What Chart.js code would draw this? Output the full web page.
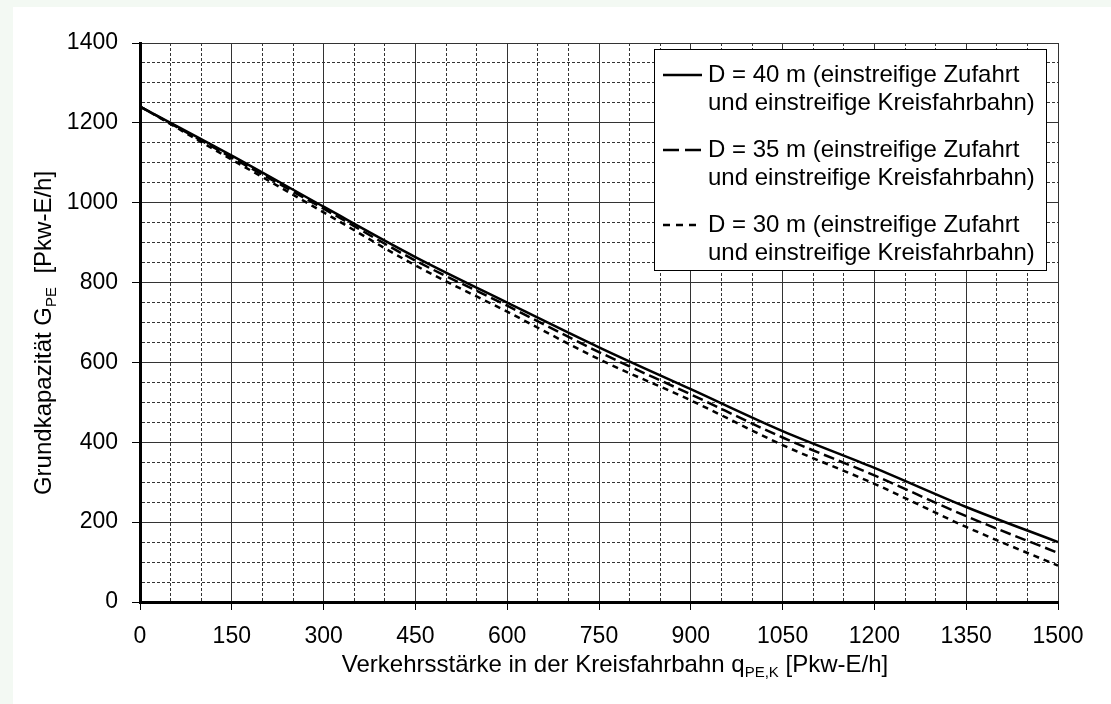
<!DOCTYPE html>
<html>
<head>
<meta charset="utf-8">
<script src="https://cdn.jsdelivr.net/npm/chart.js@4.4.1/dist/chart.umd.min.js"></script>
<style>
  html, body { margin: 0; padding: 0; background: #f3f9f3; }
  #wrap { position: absolute; left: 13px; top: 7px; width: 1098px; height: 697px; background: #fff; }
</style>
</head>
<body>
<div id="wrap"><canvas id="chart" width="1098" height="697"></canvas></div>
<script>
// Verkehrsstärke in der Kreisfahrbahn (x) und Grundkapazität je Durchmesser
const verkehr = [0, 150, 300, 450, 600, 750, 900, 1050, 1200, 1350, 1500];
const kap40 = [1241, 1118, 990, 864, 750, 638, 533, 428, 336, 238, 150];
const kap35 = [1241, 1113, 985, 855, 742, 626, 520, 412, 317, 215, 123];
const kap30 = [1241, 1108, 976, 843, 727, 608, 505, 393, 296, 188, 91];

const xTicks = [0, 150, 300, 450, 600, 750, 900, 1050, 1200, 1350, 1500];
const yTicks = [0, 200, 400, 600, 800, 1000, 1200, 1400];

const legendTexts = [
    ['D = 40 m (einstreifige Zufahrt', 'und einstreifige Kreisfahrbahn)'],
    ['D = 35 m (einstreifige Zufahrt', 'und einstreifige Kreisfahrbahn)'],
    ['D = 30 m (einstreifige Zufahrt', 'und einstreifige Kreisfahrbahn)']
];

const FONT = '"Liberation Sans", Arial, sans-serif';

function toPoints(ys) {
    return verkehr.map((x, i) => ({x: x, y: ys[i]}));
}

// text with subscript runs, centered on (0,0)
function drawRuns(ctx, runs, size) {
    let total = 0;
    runs.forEach(r => {
        ctx.font = (r.sub ? Math.round(size * 0.62) : size) + 'px ' + FONT;
        r.w = ctx.measureText(r.text).width;
        total += r.w;
    });
    let x = -total / 2;
    ctx.textBaseline = 'alphabetic';
    ctx.textAlign = 'left';
    runs.forEach(r => {
        ctx.font = (r.sub ? Math.round(size * 0.62) : size) + 'px ' + FONT;
        ctx.fillText(r.text, x, size * 0.36 + (r.sub ? size * 0.22 : 0));
        x += r.w;
    });
}

const extrasPlugin = {
    id: 'extras',
    afterDraw(chart) {
        const ctx = chart.ctx;
        ctx.save();
        ctx.fillStyle = '#000';

        // axis titles
        ctx.save();
        ctx.translate(602, 656);
        drawRuns(ctx, [{text: 'Verkehrsstärke in der Kreisfahrbahn q'}, {text: 'PE,K', sub: true}, {text: ' [Pkw-E/h]'}], 24);
        ctx.restore();

        ctx.save();
        ctx.translate(29, 326);
        ctx.rotate(-Math.PI / 2);
        drawRuns(ctx, [{text: 'Grundkapazität G'}, {text: 'PE', sub: true}, {text: '  [Pkw-E/h]'}], 24);
        ctx.restore();

        // legend box
        const bx = 641, by = 42, bw = 392, bh = 221;
        ctx.fillStyle = '#fff';
        ctx.fillRect(bx, by, bw, bh);
        ctx.strokeStyle = '#000';
        ctx.lineWidth = 1;
        ctx.strokeRect(bx + 0.5, by + 0.5, bw, bh);

        const sampleDash = [[], [16, 6], [7, 6]];
        chart.data.datasets.forEach((ds, i) => {
            const y = 68 + i * 75;
            ctx.strokeStyle = '#000';
            ctx.lineWidth = 2.5;
            ctx.setLineDash(sampleDash[i]);
            ctx.beginPath();
            ctx.moveTo(650, y);
            ctx.lineTo(689, y);
            ctx.stroke();
            ctx.setLineDash([]);
            ctx.fillStyle = '#000';
            ctx.font = '24px ' + FONT;
            ctx.textAlign = 'left';
            ctx.textBaseline = 'middle';
            ctx.fillText(legendTexts[i][0], 695, y);
            ctx.fillText(legendTexts[i][1], 695, y + 28);
        });
        ctx.restore();
    }
};

const isMajorX = c => c.tick && xTicks.includes(c.tick.value);
const isMajorY = c => c.tick && yTicks.includes(c.tick.value);

new Chart(document.getElementById('chart'), {
    type: 'line',
    data: {
        datasets: [{
            label: 'D = 40 m',
            data: toPoints(kap40),
            borderColor: '#000',
            borderWidth: 2.5
        }, {
            label: 'D = 35 m',
            data: toPoints(kap35),
            borderColor: '#000',
            borderWidth: 2.5,
            borderDash: [11, 5]
        }, {
            label: 'D = 30 m',
            data: toPoints(kap30),
            borderColor: '#000',
            borderWidth: 2.5,
            borderDash: [6, 5]
        }]
    },
    options: {
        responsive: false,
        animation: false,
        devicePixelRatio: 1,
        elements: {
            point: {radius: 0},
            line: {cubicInterpolationMode: 'monotone', fill: false}
        },
        layout: {padding: {left: 0, top: 36, right: 53, bottom: 0}},
        plugins: {
            legend: {display: false},
            tooltip: {enabled: false}
        },
        scales: {
            x: {
                type: 'linear',
                min: 0,
                max: 1500,
                afterFit: s => { s.height = 102; },
                ticks: {
                    stepSize: 50,
                    autoSkip: false,
                    maxRotation: 0,
                    padding: 13,
                    color: '#000',
                    font: {family: FONT, size: 23},
                    callback: v => xTicks.includes(v) ? String(v) : ''
                },
                grid: {
                    color: c => isMajorX(c) ? '#333' : '#333',
                    lineWidth: 1,
                    tickLength: 8,
                    tickColor: c => isMajorX(c) ? '#000' : 'rgba(0,0,0,0)'
                },
                border: {
                    color: '#000',
                    width: 3,
                    dash: c => (c.tick && !xTicks.includes(c.tick.value)) ? [3, 2] : []
                }
            },
            y: {
                min: 0,
                max: 1400,
                afterFit: s => { s.width = 127; },
                ticks: {
                    stepSize: 50,
                    autoSkip: false,
                    padding: 14,
                    color: '#000',
                    font: {family: FONT, size: 23},
                    callback: v => yTicks.includes(v) ? String(v) : ''
                },
                grid: {
                    color: c => isMajorY(c) ? '#333' : '#333',
                    lineWidth: 1,
                    tickLength: 8,
                    tickColor: c => isMajorY(c) ? '#000' : 'rgba(0,0,0,0)'
                },
                border: {
                    color: '#000',
                    width: 3,
                    dash: c => (c.tick && !yTicks.includes(c.tick.value)) ? [3, 2] : []
                }
            }
        }
    },
    plugins: [extrasPlugin]
});
</script>
</body>
</html>
